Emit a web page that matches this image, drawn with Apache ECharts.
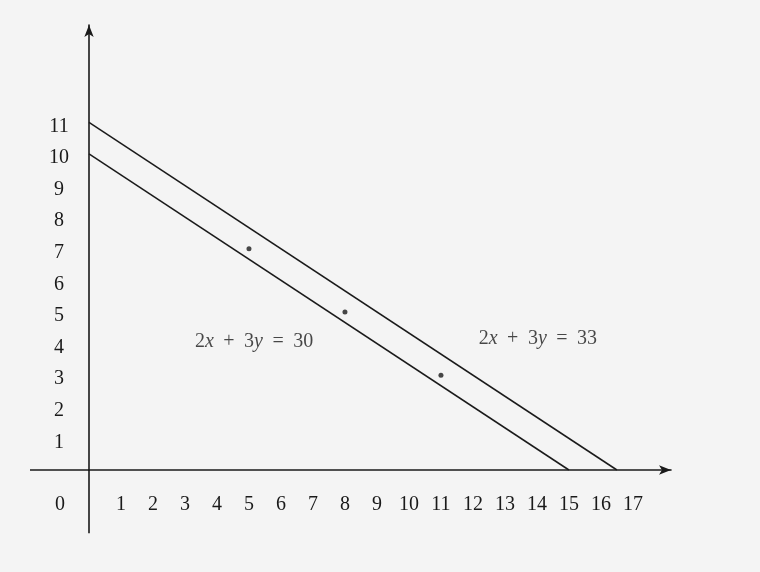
<!DOCTYPE html>
<html><head><meta charset="utf-8">
<script src="https://cdn.jsdelivr.net/npm/echarts@6/dist/echarts.min.js"></script>
<style>html,body{margin:0;padding:0;background:#f4f4f4}#c{width:760px;height:572px}</style>
</head><body><div id="c"></div>
<script>
// ---- data ----
const xTicks = [0,1,2,3,4,5,6,7,8,9,10,11,12,13,14,15,16,17];
const yTicks = [1,2,3,4,5,6,7,8,9,10,11];
const line30 = [[0,10],[15,0]];
const line33 = [[0,11],[16.5,0]];
const points = [[5,7],[8,5],[11,3]];
const eqTexts = ['2x + 3y = 30', '2x + 3y = 33'];
const eqAnchors = [[5.16,4.05],[14.03,4.16]];
// axis extents below / left of the origin
const xAxisTail = [[-1.844,0],[0,0]];
const yAxisTail = [[0,0],[0,-2]];

// ---- styles ----
const FONT = 'Liberation Serif';
const INK = '#1a1a1a';
const FS = 20;
function toRich(s){
  const parts = s.split(' ');
  return parts.map(tok => {
    if (tok === '+' || tok === '=') return '{o|' + tok + '}';
    return tok.replace(/([0-9]+)|([a-z])/g, (m, d, l) => d ? '{n|' + d + '}' : '{i|' + l + '}');
  }).join('');
}
const chart = echarts.init(document.getElementById('c'), null, {renderer:'canvas'});
chart.setOption({
  animation: false,
  backgroundColor: '#f4f4f4',
  grid: {left: 89, right: 89, top: 25, bottom: 102, containLabel: false, outerBoundsMode: 'none'},
  xAxis: {
    type: 'value', min: 0, max: 18.19,
    splitLine: {show: false},
    axisTick: {show: false},
    axisLine: {show: true, onZero: false, symbol: ['none','arrow'], symbolSize: [7, 12],
      lineStyle: {color: INK, width: 1.6}},
    axisLabel: {
      customValues: xTicks,
      margin: 25,
      fontFamily: FONT, fontSize: FS, color: INK,
      formatter: v => v === 0 ? '{z|0}' : String(v),
      rich: {z: {padding: [0, 58, 0, 0], fontFamily: FONT, fontSize: FS, color: INK}}
    }
  },
  yAxis: {
    type: 'value', min: 0, max: 14.08,
    splitLine: {show: false},
    axisTick: {show: false},
    axisLine: {show: true, onZero: false, symbol: ['none','arrow'], symbolSize: [7, 12],
      lineStyle: {color: INK, width: 1.6}},
    axisLabel: {
      customValues: yTicks,
      margin: 30, align: 'center',
      fontFamily: FONT, fontSize: FS, color: INK,
      formatter: v => '{a|' + v + '}',
      rich: {a: {padding: [8, 0, 0, 0], fontFamily: FONT, fontSize: FS, color: INK}}
    }
  },
  series: [
    {type: 'lines', coordinateSystem: 'cartesian2d', clip: false, silent: true,
      data: [{coords: xAxisTail}, {coords: yAxisTail}],
      lineStyle: {color: INK, width: 1.6, opacity: 1}},
    {type: 'line', data: line30, symbol: 'none', lineStyle: {color: INK, width: 1.5}},
    {type: 'line', data: line33, symbol: 'none', lineStyle: {color: INK, width: 1.5}},
    {type: 'scatter', data: points, symbolSize: 5, itemStyle: {color: INK}},
    {type: 'scatter', symbolSize: 0,
      data: eqAnchors.map((p, i) => ({value: p, name: eqTexts[i]})),
      label: {show: true, position: 'inside',
        formatter: p => toRich(p.name),
        rich: {
          n: {fontFamily: FONT, fontSize: FS, color: INK},
          i: {fontFamily: FONT, fontSize: FS, fontStyle: 'italic', color: INK},
          o: {fontFamily: FONT, fontSize: FS, color: INK, padding: [0, 9.5]}
        }
      }
    }
  ]
});
</script></body></html>
